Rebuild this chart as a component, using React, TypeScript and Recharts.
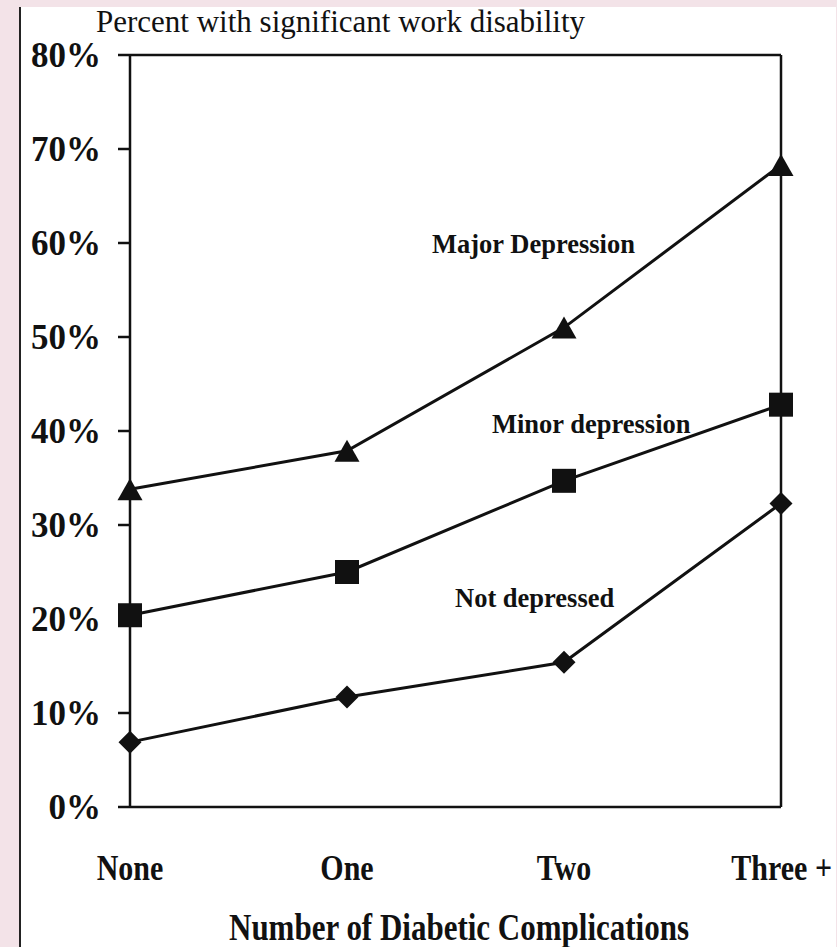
import React from 'react';
import { LineChart, Line, XAxis, YAxis, ReferenceLine } from 'recharts';

const categories = ['None', 'One', 'Two', 'Three +'];
const majorDepression = [33.8, 37.9, 51.0, 68.3];
const minorDepression = [20.4, 25.0, 34.7, 42.8];
const notDepressed = [6.9, 11.7, 15.4, 32.3];
const yTicks = [0, 10, 20, 30, 40, 50, 60, 70, 80];

const data = categories.map((c, i) => ({
  cat: c,
  major: majorDepression[i],
  minor: minorDepression[i],
  none: notDepressed[i],
}));

const INK = '#111';
const SERIF = '"Liberation Serif", "Times New Roman", serif';

const Triangle = (props: any) => {
  const { cx, cy } = props;
  if (cx == null || cy == null) return null;
  return <polygon points={`${cx},${cy - 11} ${cx - 12.5},${cy + 11} ${cx + 12.5},${cy + 11}`} fill={INK} />;
};
const Square = (props: any) => {
  const { cx, cy } = props;
  if (cx == null || cy == null) return null;
  return <rect x={cx - 12} y={cy - 12} width={24} height={24} fill={INK} />;
};
const Diamond = (props: any) => {
  const { cx, cy } = props;
  if (cx == null || cy == null) return null;
  return <polygon points={`${cx},${cy - 11.5} ${cx + 11.5},${cy} ${cx},${cy + 11.5} ${cx - 11.5},${cy}`} fill={INK} />;
};

const XTick = (props: any) => {
  const { x, y, payload, index } = props;
  const last = index === categories.length - 1;
  return (
    <g transform={`translate(${last ? x + 51 : x},${y + 65})`}>
      <text
        transform="scale(1,1.2)"
        textAnchor={last ? 'end' : 'middle'}
        fontFamily={SERIF}
        fontWeight="bold"
        fontSize={30}
        fill={INK}
      >
        {payload.value}
      </text>
    </g>
  );
};

export default function App() {
  return (
    <div style={{ position: 'absolute', left: 0, top: 0, width: 837, height: 947, background: '#f3e3e8', overflow: 'hidden' }}>
      <div style={{ position: 'absolute', left: 19, top: 7, width: 815, height: 940, background: '#fff', borderLeft: '2px solid #222' }} />
      <div style={{ position: 'absolute', left: 0, top: 0 }}>
        <LineChart width={837} height={947} data={data} margin={{ top: 55, right: 56, left: 30, bottom: 80 }}>
          <XAxis
            dataKey="cat"
            height={60}
            padding={{ left: 0, right: 0 }}
            axisLine={{ stroke: INK, strokeWidth: 2.5 }}
            tickLine={false}
            tick={<XTick />}
            interval={0}
          />
          <YAxis
            width={100}
            domain={[0, 80]}
            ticks={yTicks}
            interval={0}
            tickFormatter={(v: number) => `${v}%`}
            axisLine={{ stroke: INK, strokeWidth: 2.5 }}
            tickLine={{ stroke: INK, strokeWidth: 2.5 }}
            tickSize={12}
            tickMargin={17}
            tick={{ fontFamily: SERIF, fontWeight: 'bold', fontSize: 35, fill: INK }}
          />
          <ReferenceLine y={80} stroke={INK} strokeWidth={2.5} ifOverflow="extendDomain" />
          <ReferenceLine x="Three +" stroke={INK} strokeWidth={2.5} />
          <Line dataKey="major" stroke={INK} strokeWidth={3} dot={<Triangle />} activeDot={false} isAnimationActive={false} />
          <Line dataKey="minor" stroke={INK} strokeWidth={3} dot={<Square />} activeDot={false} isAnimationActive={false} />
          <Line dataKey="none" stroke={INK} strokeWidth={3} dot={<Diamond />} activeDot={false} isAnimationActive={false} />
        </LineChart>
      </div>
      <svg width={837} height={947} style={{ position: 'absolute', left: 0, top: 0, pointerEvents: 'none' }}>
        <text x={96} y={32} fontFamily={SERIF} fontSize={31} fill={INK}>Percent with significant work disability</text>
        <text x={432} y={253} fontFamily={SERIF} fontWeight="bold" fontSize={26.5} fill={INK}>Major Depression</text>
        <text x={492} y={433} fontFamily={SERIF} fontWeight="bold" fontSize={26.5} fill={INK}>Minor depression</text>
        <text x={455} y={607} fontFamily={SERIF} fontWeight="bold" fontSize={26.5} fill={INK}>Not depressed</text>
        <g transform="translate(459,940)">
          <text transform="scale(1,1.2)" textAnchor="middle" fontFamily={SERIF} fontWeight="bold" fontSize={31} fill={INK}>
            Number of Diabetic Complications
          </text>
        </g>
      </svg>
    </div>
  );
}
